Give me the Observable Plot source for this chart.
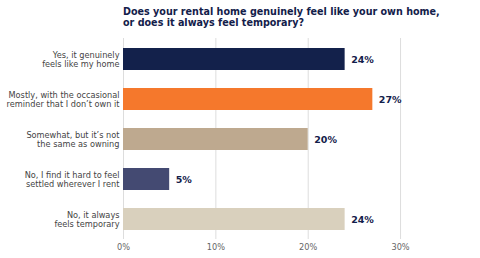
<!DOCTYPE html>
<html>
<head>
<meta charset="utf-8">
<script src="https://cdn.jsdelivr.net/npm/d3@7"></script>
<script src="https://cdn.jsdelivr.net/npm/@observablehq/plot@0.6"></script>
<style>
  html, body { margin: 0; padding: 0; background: #fff; }
  #title { font-family: "DejaVu Sans", sans-serif; font-weight: bold; font-size: 9.6px; line-height: 11px; color: #13204a; padding: 6px 0 0 123px; height: 35px; box-sizing: border-box; white-space: nowrap; }
  svg { display: block; }
</style>
</head>
<body>
<div id="title">Does your rental home genuinely feel like your own home,<br>or does it always feel temporary?</div>
<div id="chart"></div>
<script>
const categories = [
  "Yes, it genuinely\nfeels like my home",
  "Mostly, with the occasional\nreminder that I don\u2019t own it",
  "Somewhat, but it\u2019s not\nthe same as owning",
  "No, I find it hard to feel\nsettled wherever I rent",
  "No, it always\nfeels temporary"
];
const values = [24, 27, 20, 5, 24];
const colors = ["#13214b", "#f5782c", "#bea98f", "#444a72", "#d9d0bd"];
const xTicks = [0, 10, 20, 30];

const data = categories.map((c, i) => ({ category: c, value: values[i], color: colors[i] }));

const chart = Plot.plot({
  width: 480,
  height: 223,
  marginTop: 3,
  marginBottom: 19,
  marginLeft: 123,
  marginRight: 7,
  style: { fontFamily: "DejaVu Sans, sans-serif", fontSize: "8px", background: "#fff" },
  x: { domain: [0, 37.9], ticks: xTicks, tickFormat: d => d + "%", label: null },
  y: { domain: categories, paddingInner: 0.45, paddingOuter: 0.225, label: null },
  marks: [
    Plot.gridX(xTicks, { stroke: "#dddddd", strokeOpacity: 1, strokeWidth: 1 }),
    Plot.ruleY([0], { frameAnchor: "bottom", stroke: "#cccccc" }),
    Plot.barX(data, { x: "value", y: "category", fill: "color" }),
    Plot.text(data, { x: "value", y: "category", text: d => d.value + "%", textAnchor: "start", dx: 6, fill: "#13204a", fontWeight: "bold", fontSize: 9.5 }),
    Plot.axisX({ ticks: xTicks, tickFormat: d => d + "%", tickSize: 0, tickPadding: 5, fill: "#666", fontSize: 8.2 }),
    Plot.axisY({ tickSize: 0, tickPadding: 4, fill: "#444", fontSize: 8.2, lineHeight: 1.15 })
  ]
});
document.getElementById("chart").appendChild(chart);
</script>
</body>
</html>
